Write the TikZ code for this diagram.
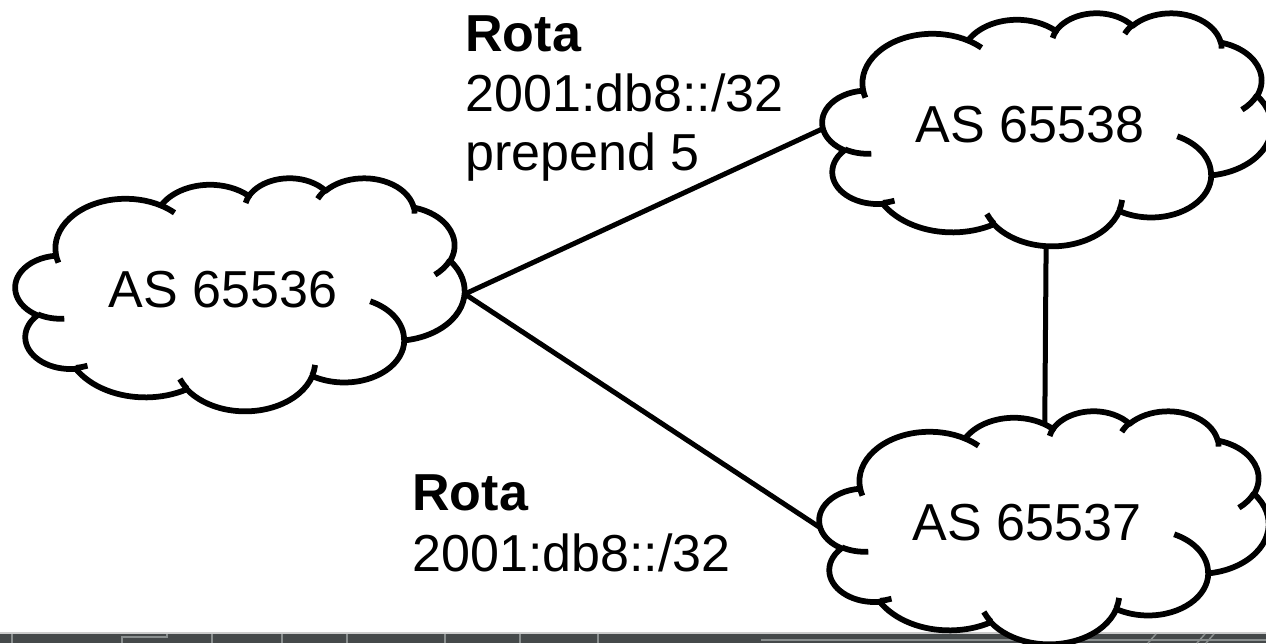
\documentclass[tikz,border=0pt]{standalone}
\usepackage{fontspec}
\setmainfont{Liberation Sans}
\usetikzlibrary{shapes.geometric}

\pgfdeclarelayer{links}
\pgfsetlayers{links,main}

\definecolor{stripgray}{HTML}{45494A}
\definecolor{stripline}{HTML}{8A8F8F}

\tikzset{
  cloudarea/.style={ellipse, draw=none, inner sep=0pt, minimum width=89.8mm, minimum height=46.6mm},
  cloudline/.style={line width=1.15mm, line join=round},
  link/.style={line width=1mm},
  astext/.style={inner sep=0pt, anchor=base, font=\fontsize{29.6}{35}\selectfont},
  rotatext/.style={inner sep=0pt, anchor=base west, font=\fontsize{29.6}{35}\selectfont},
}

% one puff of the cloud, angles as seen, turned into ellipse parameters
\newcommand\carc[4]{arc[x radius=#1, y radius=#2, start angle={atan2(#1*sin(#3),#2*cos(#3))}, delta angle={mod(atan2(#1*sin(#3+#4),#2*cos(#3+#4))-atan2(#1*sin(#3),#2*cos(#3))+720,360)}]}

% cloud outline round a cloudarea node
\newcommand\pptcloud[1]{%
  \begin{scope}[shift={(#1.center)}, x=0.20787mm, y=-0.10787mm, shift={(-216,-216)}]
    \draw[cloudline, fill=white] (39,143.7)
      \carc{67.53}{91.90}{-190.4875}{123.7805}
      \carc{53.33}{72.67}{-144.1024}{89.9452}
      \carc{43.65}{59.45}{-145.8079}{99.7230}
      \carc{48.57}{65.95}{-130.9861}{117.2417}
      \carc{53.33}{72.73}{-78.7089}{109.0269}
      \carc{67.75}{92.20}{-46.2673}{130.2690}
      \carc{57.85}{78.67}{0.6250}{114.0333}
      \carc{67.52}{92.15}{22.4516}{115.1726}
      \carc{77.20}{105.43}{66.2426}{75.7110}
      \carc{43.60}{59.18}{-274.9421}{146.7356}
      \carc{43.45}{59.45}{-246.8285}{152.5189} -- cycle;
    % the curls inside
    \draw[cloudline]
      (46.93,261.77) \carc{43.45}{59.45}{86.7420}{26.4295}
      (69.28,348.99) \carc{43.60}{59.18}{73.6105}{11.4475}
      (164.78,390.90) \carc{67.52}{92.15}{137.6242}{14.0811}
      (288.27,347.51) \carc{67.52}{92.15}{6.4533}{15.9984}
      (341.29,229.54) \carc{57.85}{78.67}{-70.2924}{70.9174}
      (417.98,153.54) \carc{53.33}{72.73}{30.3180}{27.7515}
      (383.24,54.26) \carc{48.57}{65.95}{-13.7443}{14.8589}
      (290.78,39.52) \carc{48.57}{65.95}{-149.1815}{18.1954}
      (221.41,47.20) \carc{43.65}{59.45}{-163.4943}{17.6864}
      (140.00,51.92) \carc{67.53}{91.90}{-66.7070}{12.3194}
      (41.27,157.89) \carc{67.53}{91.90}{157.6544}{11.8582};
  \end{scope}}

\begin{document}
\begin{tikzpicture}[x=0.2mm, y=-0.2mm]
\useasboundingbox (0,0) rectangle (1266,643);
% strip at the bottom
\fill[stripgray] (0,632) rectangle (1266,643);
\draw[line width=0.4mm, gray!40] (0,632.5) -- (1266,632.5);
\foreach \sx in {12,212,282,347,445,520,598}
  \draw[stripline, line width=0.3mm] (\sx,634) -- (\sx,643);
\draw[stripline, line width=0.3mm] (122,643) -- (122,637) -- (167,637) -- (167,634);
\draw[stripline, line width=0.3mm] (761,640) -- (1266,640);
\foreach \sx in {1050,1152,1201,1210}
  \draw[stripline, line width=0.3mm] (\sx-4,643) -- (\sx+4,634);

% the three AS
\node[cloudarea] (as536) at (240,294) {};
\node[cloudarea] (as538) at (1047,129) {};
\node[cloudarea] (as537) at (1044,527) {};
\pptcloud{as536}
\pptcloud{as538}
\pptcloud{as537}
\node[astext] (t536) at ([shift={(-17,13)}]as536.center) {AS 65536};
\node[astext] (t538) at ([shift={(-17,13)}]as538.center) {AS 65538};
\node[astext] (t537) at ([shift={(-17,13)}]as537.center) {AS 65537};

\begin{pgfonlayer}{links}
\draw[link] (as536.east) -- (as538.west);
\draw[link] (as536.east) -- (as537.west);
\draw[link] (as538.center) -- (as537.center);
\end{pgfonlayer}

% announced routes
\node[rotatext] (rota1) at (465,51) {\textbf{Rota}};
\node[rotatext] (pfx1) at (465,111) {2001:db8::/32};
\node[rotatext] (prep1) at (465,170) {prepend 5};
\node[rotatext] (rota2) at (412,510) {\textbf{Rota}};
\node[rotatext] (pfx2) at (412,571) {2001:db8::/32};
\end{tikzpicture}
\end{document}
